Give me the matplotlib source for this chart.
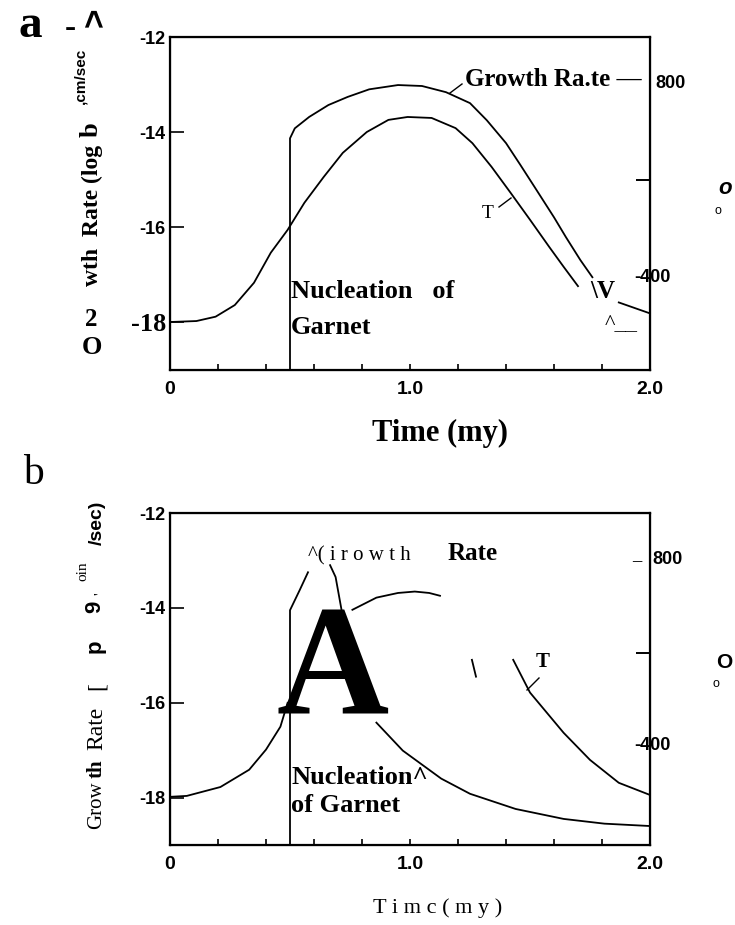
import numpy as np
import matplotlib.pyplot as plt

SERIF = 'Liberation Serif'
SANS = 'Liberation Sans'
W, H = 735, 925

# ---- panel a : values ----
a_growth_t = [0.5, 0.5, 0.52, 0.58, 0.66, 0.74, 0.83, 0.95, 1.05, 1.15, 1.25, 1.32, 1.40,
              1.46, 1.52, 1.60, 1.65, 1.71, 1.76, np.nan, 1.87, 2.0]
a_growth = [-19.0, -14.13, -13.92, -13.68, -13.43, -13.26, -13.10, -13.01, -13.03, -13.16, -13.39,
            -13.75, -14.23, -14.69, -15.16, -15.79, -16.21, -16.69, -17.05, np.nan, -17.58, -17.81]
a_temp_t = [0, 0.11, 0.19, 0.27, 0.35, 0.42, 0.49, 0.56, 0.64, 0.72, 0.82, 0.91, 0.99,
            1.09, 1.19, 1.26, 1.34, 1.42, 1.50, 1.58, 1.64, 1.70]
a_temp = [307, 309, 318, 342, 388, 450, 497, 553, 606, 656, 699, 724, 730,
          728, 707, 676, 627, 573, 518, 462, 421, 381]

# ---- panel b ----
b_growth_t = [0.5, 0.5, 0.54, 0.575, np.nan, 0.667, 0.69, 0.715, np.nan,
              0.86, 0.97, 1.13, 1.25, 1.44, 1.64, 1.81, 2.0]
b_growth = [-19.0, -14.05, -13.63, -13.25, np.nan, -13.1, -13.35, -14.05, np.nan,
            -16.42, -17.01, -17.6, -17.92, -18.24, -18.45, -18.55, -18.6]
b_temp_t = [0, 0.07, 0.21, 0.33, 0.40, 0.46, 0.49, np.nan,
            0.76, 0.86, 0.95, 1.02, 1.08, 1.125, np.nan,
            1.258, 1.275, np.nan,
            1.43, 1.50, 1.64, 1.75, 1.87, 2.0]
b_temp = [293, 295, 314, 351, 394, 443, 494, np.nan,
          693, 719, 729, 732, 729, 723, np.nan,
          586, 550, np.nan,
          586, 516, 430, 372, 323, 297]

left_ticks = [-18, -16, -14, -12]
left_labels = ['-18', '-16', '-14', '-12']
x_ticks = [0, 1.0, 2.0]
x_labels = ['0', '1.0', '2.0']


def fx(x):
    return x / W


def fy(y):
    return 1 - y / H


def ftext(x, y, s, **kw):
    kw.setdefault('ha', 'center')
    kw.setdefault('va', 'center')
    fig.text(fx(x), fy(y), s, **kw)


def leader(x0, y0, x1, y1):
    fig.add_artist(plt.Line2D([fx(x0), fx(x1)], [fy(y0), fy(y1)], color='black', lw=1.0))


def setup(ax, ax2, tlim):
    ax.set_xlim(0, 2)
    ax.set_ylim(-19.0, -12)
    ax2.set_ylim(*tlim)
    for s in ax.spines.values():
        s.set_linewidth(1.6)
    ax.set_yticks(left_ticks)
    ax.set_yticklabels(left_labels, family=SANS, fontweight='bold', fontsize=13)
    ax.set_xticks(x_ticks)
    ax.set_xticklabels(x_labels, family=SANS, fontweight='bold', fontsize=14)
    ax.set_xticks(np.arange(0.2, 2.0, 0.2), minor=True)
    ax.tick_params(axis='y', direction='in', length=10, width=1.2, pad=3)
    ax.tick_params(axis='x', which='both', direction='in', length=4, width=1.2, pad=8)
    ax2.set_yticks([600])
    ax2.set_yticklabels([''])
    ax2.tick_params(axis='y', direction='in', length=10, width=1.4)


fig = plt.figure(figsize=(7.35, 9.25), dpi=100)

# ================= panel a =================
ax = fig.add_axes([fx(170), fy(370), 480 / W, 333 / H])
ax2 = ax.twinx()
setup(ax, ax2, (208, 895))
ax.plot(a_growth_t, a_growth, color='black', lw=1.3)
ax2.plot(a_temp_t, a_temp, color='black', lw=1.3)
lab = ax.get_yticklabels()[0]
lab.set_fontfamily(SERIF)
lab.set_fontsize(19)

ftext(553, 80, 'Growth Ra.te \u2014', family=SERIF, fontweight='bold', fontsize=18)
leader(450, 93, 462, 84)
ftext(488, 214, 'T', family=SERIF, fontsize=14)
leader(499, 207, 511, 198)
ftext(291, 292, 'Nucleation   of', family=SERIF, fontweight='bold', fontsize=19, ha='left')
ftext(291, 328, 'Garnet', family=SERIF, fontweight='bold', fontsize=19, ha='left')
ftext(590, 292, '\\V', family=SERIF, fontweight='bold', fontsize=18, ha='left')
ftext(605, 324, '^__', family=SERIF, fontsize=16, ha='left')
ftext(655, 83, '800', family=SANS, fontweight='bold', fontsize=13, ha='left')
ftext(634, 277, '-400', family=SANS, fontweight='bold', fontsize=13, ha='left')
ftext(725, 188, 'o', family=SANS, fontweight='bold', style='italic', fontsize=16)
ftext(718, 211, 'o', family=SANS, fontsize=9)
ftext(440, 433, 'Time (my)', family=SERIF, fontweight='bold', fontsize=22)

ftext(30, 26, 'a', family=SERIF, fontweight='bold', fontsize=34)
ftext(70, 28, '-', family=SERIF, fontweight='bold', fontsize=24)
ftext(96, 17, '>', family=SANS, fontweight='bold', fontsize=24, rotation=90)
ftext(92, 215, 'wth  Rate (log', family=SERIF, fontweight='bold', fontsize=17, rotation=90)
ftext(91, 130, 'b', family=SERIF, fontweight='bold', fontsize=19, rotation=90)
ftext(80, 76, ',cm/sec', family=SANS, fontweight='bold', fontsize=11, rotation=90)
ftext(91, 320, '2', family=SERIF, fontweight='bold', fontsize=18)
ftext(92, 347, 'O', family=SERIF, fontweight='bold', fontsize=19)

# ================= panel b =================
bx = fig.add_axes([fx(170), fy(845), 480 / W, 332 / H])
bx2 = bx.twinx()
setup(bx, bx2, (190, 900))
bx.plot(b_growth_t, b_growth, color='black', lw=1.3)
bx2.plot(b_temp_t, b_temp, color='black', lw=1.3)

ftext(333, 676, 'A', family=SERIF, fontweight='bold', fontsize=112)
ftext(308, 556, '^( i r o w t h', family=SERIF, fontsize=15, ha='left')
ftext(448, 553, 'Rate', family=SERIF, fontweight='bold', fontsize=18, ha='left')
ftext(291, 777, 'Nucleation^', family=SERIF, fontweight='bold', fontsize=19, ha='left')
ftext(291, 805, 'of Garnet', family=SERIF, fontweight='bold', fontsize=19, ha='left')
ftext(543, 662, 'T', family=SERIF, fontweight='bold', fontsize=15)
leader(527, 690, 539, 678)
ftext(652, 560, '800', family=SANS, fontweight='bold', fontsize=13, ha='left')
ftext(632, 556, '_', family=SANS, fontweight='bold', fontsize=12, ha='left')
ftext(634, 745, '-400', family=SANS, fontweight='bold', fontsize=13, ha='left')
ftext(724, 662, 'O', family=SANS, fontweight='bold', fontsize=15)
ftext(716, 684, 'o', family=SANS, fontsize=9)
ftext(438, 908, 'T i m c ( m y )', family=SERIF, fontsize=16)

ftext(33, 474, 'b', family=SERIF, fontsize=30)
ftext(97, 805, 'Grow', family=SERIF, fontsize=15, rotation=90)
ftext(97, 769, 'th', family=SERIF, fontweight='bold', fontsize=15, rotation=90)
ftext(97, 728, 'Rate', family=SERIF, fontsize=17, rotation=90)
ftext(97, 686, '[', family=SERIF, fontsize=17, rotation=90)
ftext(95, 646, 'p', family=SANS, fontweight='bold', fontsize=16, rotation=90)
ftext(95, 607, '9', family=SANS, fontweight='bold', fontsize=16, rotation=90)
ftext(100, 594, "'", family=SERIF, fontsize=11, rotation=90)
ftext(83, 571, 'oin', family=SERIF, fontsize=11, rotation=90)
ftext(97, 523, '/sec)', family=SANS, fontweight='bold', fontsize=14, rotation=90)

fig.savefig('out.png', dpi=100, facecolor='white')
